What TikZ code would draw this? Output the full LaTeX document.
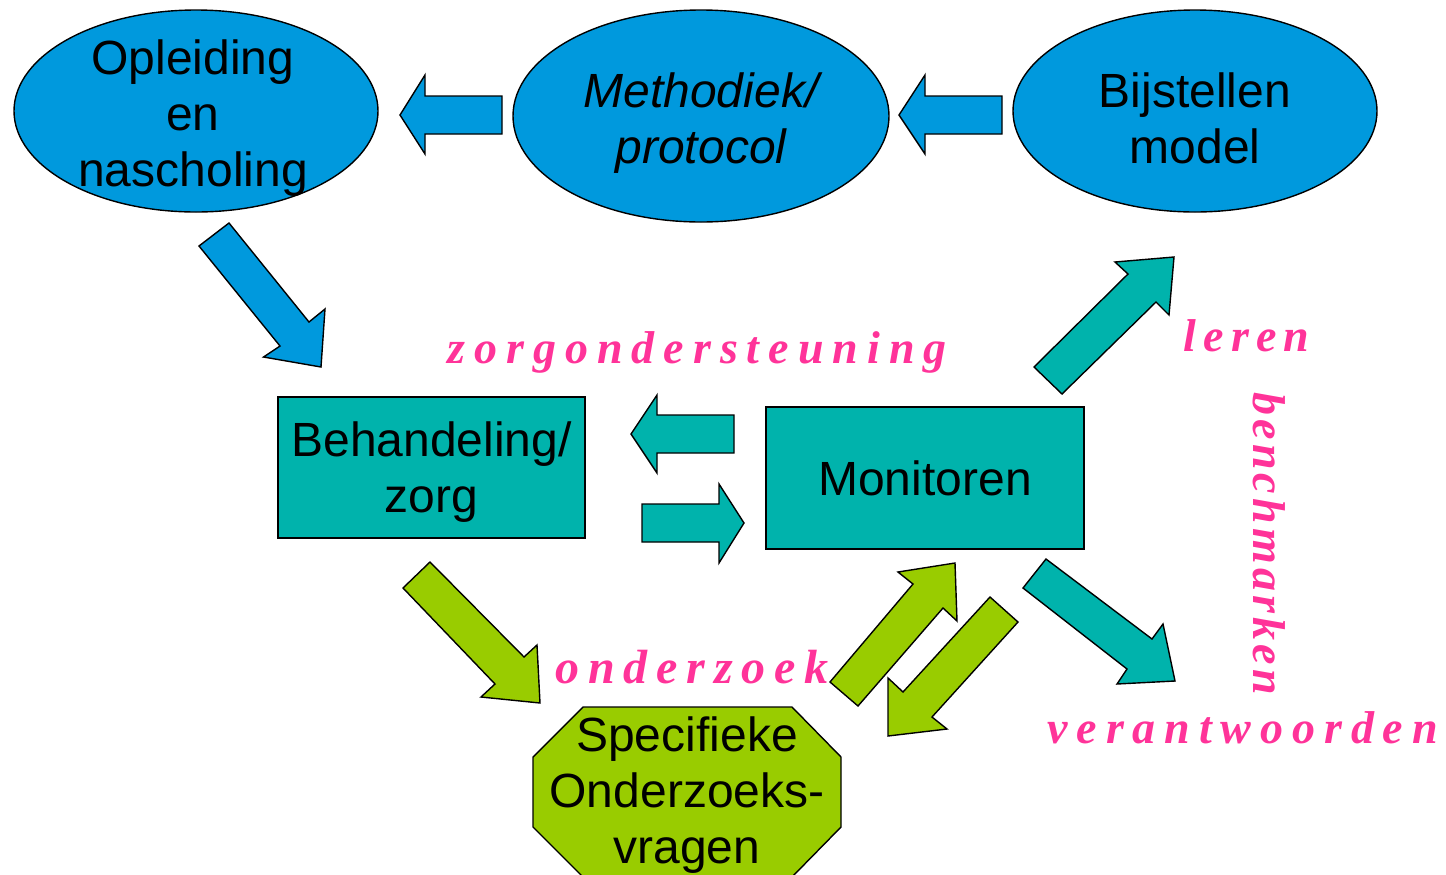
\documentclass[tikz,border=0pt]{standalone}
\usepackage{fontspec}
\setmainfont{Liberation Sans}
\newfontfamily\pinkfont{Liberation Serif}
\usetikzlibrary{shapes.geometric}
\definecolor{cblue}{RGB}{0,153,221}
\definecolor{cteal}{RGB}{0,179,172}
\definecolor{cgreen}{RGB}{153,204,0}
\definecolor{cpink}{RGB}{255,51,153}
\makeatletter
\newcommand\spacedword[2]{\@tfor\sw@c:=#2\do{\sw@c\kern#1}\unkern}
\makeatother
\tikzset{
  outl/.style={draw=black,line width=0.7pt,line join=miter},
  oval/.style={outl,ellipse,fill=cblue,inner sep=0pt},
  boxn/.style={outl,rectangle,fill=cteal,inner sep=0pt,font=\fontsize{24}{28}\selectfont},
  lbl/.style={align=center,inner sep=0pt,font=\fontsize{24}{28}\selectfont},
  pink/.style={inner sep=0pt,text=cpink,font=\pinkfont\bfseries\itshape\fontsize{23}{26}\selectfont},
  barrow/.style={outl,fill=cblue},
  tarrow/.style={outl,fill=cteal},
  garrow/.style={outl,fill=cgreen}
}
\begin{document}
\begin{tikzpicture}[x=0.5pt,y=-0.5pt]
\useasboundingbox (0,0) rectangle (1446,874);
% ellipses
\node[oval,minimum width=182pt,minimum height=101pt] (e1) at (196,111) {};
\node[oval,minimum width=188pt,minimum height=106pt] (e2) at (701,116) {};
\node[oval,minimum width=182pt,minimum height=101pt] (e3) at (1195,111) {};
\node[lbl] (t1) at (193,118.5) {Opleiding\\en\\nascholing};
\node[lbl,font=\fontsize{24}{28}\selectfont\itshape] (t2) at (701,123.5) {Methodiek/\\protocol};
\node[lbl] (t3) at (1195,118.5) {Bijstellen\\model};
% boxes
\node[boxn,minimum width=153.5pt,minimum height=70.5pt] (beh) at (431.5,467.5) {};
\node[lbl] (tbeh) at (431.5,472.5) {Behandeling/\\zorg};
\node[boxn,minimum width=159pt,minimum height=71pt] (mon) at (925,478) {Monitoren};
% octagon
\path[outl,fill=cgreen] (583,707) -- (792,707) -- (841,757) -- (841,827) -- (792,877) -- (583,877) -- (533,827) -- (533,757) -- cycle;
\node[lbl] (oct) at (687,795.5) {Specifieke\\Onderzoeks-\\vragen};
% blue arrows
\path[barrow] (502,96) -- (425,96) -- (425,75) -- (400,115) -- (425,154) -- (425,134) -- (502,134) -- cycle;
\path[barrow] (1002,96) -- (925,96) -- (925,75) -- (899,115) -- (925,154) -- (925,134) -- (1002,134) -- cycle;
\path[barrow] (199,246) -- (229,223) -- (309,322) -- (325,309) -- (321,367) -- (263.5,357) -- (280,346) -- cycle;
% teal arrows
\path[tarrow] (734,415) -- (657,415) -- (657,395) -- (631,434) -- (657,473) -- (657,453) -- (734,453) -- cycle;
\path[tarrow] (642,504) -- (719,504) -- (719,484) -- (744,523) -- (719,563) -- (719,542) -- (642,542) -- cycle;
\path[tarrow] (1034,367) -- (1062,394) -- (1156,302) -- (1169,315) -- (1174,257) -- (1115,262) -- (1128,274) -- cycle;
\path[tarrow] (1046,559) -- (1023,588) -- (1127,669) -- (1117,684) -- (1175,681) -- (1163,624) -- (1152,639) -- cycle;
% green arrows
\path[garrow] (403,588) -- (430,562) -- (524,657) -- (537,645) -- (540,703) -- (481,697) -- (495,684) -- cycle;
\path[garrow] (830,682) -- (858,706) -- (943,608) -- (957,621) -- (955,563) -- (898,572) -- (913,584) -- cycle;
\path[garrow] (990,597) -- (1018,622) -- (932,717) -- (947,729) -- (888,736) -- (888,678) -- (903,692) -- cycle;
% pink labels
\node[pink,anchor=base west] (zo) at (447,363) {\spacedword{4.5pt}{zorgondersteuning}};
\node[pink,anchor=base west] (le) at (1183,351) {\spacedword{3.6pt}{leren}};
\node[pink,anchor=base west,rotate=-90] (be) at (1253,392) {\spacedword{2.1pt}{benchmarken}};
\node[pink,anchor=base west] (ve) at (1047,743) {\spacedword{4.45pt}{verantwoorden}};
\node[pink,anchor=base west,font=\pinkfont\bfseries\itshape\fontsize{24}{26}\selectfont] (on) at (555,683) {\spacedword{4.4pt}{onderzoek}};
\end{tikzpicture}
\end{document}
